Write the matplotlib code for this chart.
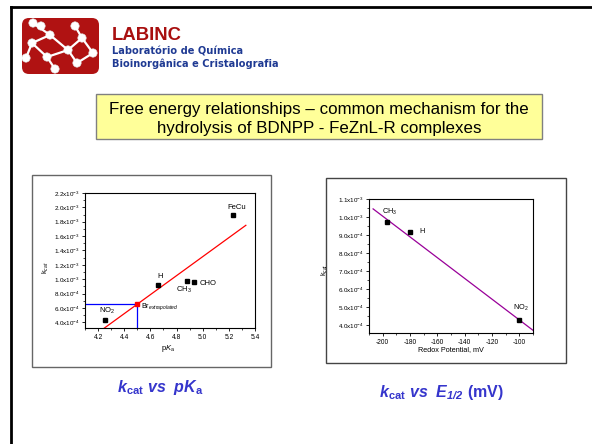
import matplotlib
matplotlib.use("Agg")
import matplotlib.pyplot as plt
import matplotlib.ticker as mticker
from matplotlib.lines import Line2D
from matplotlib.patches import Rectangle, FancyBboxPatch, Circle
import numpy as np

plt.rcParams["font.family"] = ["Liberation Sans", "DejaVu Sans"]
plt.rcParams["mathtext.fontset"] = "custom"
plt.rcParams["mathtext.rm"] = "Liberation Sans"
plt.rcParams["mathtext.it"] = "Liberation Sans:italic"
plt.rcParams["mathtext.bf"] = "Liberation Sans:bold"
plt.rcParams["mathtext.bfit"] = "Liberation Sans:italic:bold"
plt.rcParams["axes.unicode_minus"] = False

W, H = 592, 444

# kcat vs pKa
pka_labels = ["NO$_2$", "H", "CH$_3$", "CHO", "FeCu"]
pka_x = [4.25, 4.66, 4.88, 4.93, 5.23]
pka_kcat = [4.3e-4, 9.2e-4, 9.8e-4, 9.6e-4, 1.9e-3]
pka_fit_x = [4.23, 5.33]
pka_fit_y = [2.95e-4, 1.75e-3]
br_pka = 4.5
br_kcat = 6.5e-4

# kcat vs redox potential
redox_labels = ["CH$_3$", "H", "NO$_2$"]
redox_e = [-197, -180, -100]
redox_kcat = [9.7e-4, 9.15e-4, 4.25e-4]
redox_fit_x = [-207, -90]
redox_fit_y = [1.045e-3, 3.7e-4]

# logo molecule (pixels inside the logo)
logo_nodes = [(12, 6), (29, 18), (11, 26), (5, 41), (26, 40), (47, 33),
              (61, 21), (54, 9), (72, 36), (56, 46), (34, 52), (20, 9)]
logo_bonds = [(0, 1), (0, 11), (1, 2), (2, 3), (2, 4), (4, 5), (5, 6),
              (6, 7), (6, 8), (5, 9), (4, 10), (1, 5), (8, 9)]


def sci_fmt(v, pos):
    if v <= 0:
        return ""
    e = int(np.floor(np.log10(v) + 1e-9))
    m = v / 10 ** e
    return f"{m:.1f}x10$^{{{e}}}$"


def px_axes(fig, l, t, r, b):
    return fig.add_axes([l / W, 1 - b / H, (r - l) / W, (b - t) / H])


def px_rect(fig, l, t, r, b, **kw):
    rect = Rectangle((l / W, 1 - b / H), (r - l) / W, (b - t) / H,
                     transform=fig.transFigure, zorder=-1, **kw)
    fig.add_artist(rect)


def style_axes(ax):
    for s in ax.spines.values():
        s.set_linewidth(0.8)
    ax.tick_params(which="major", direction="out", length=2.5, width=0.6,
                   labelsize=4.8, pad=1.5, top=False, right=False)
    ax.tick_params(which="minor", direction="out", length=1.3, width=0.5,
                   top=False, right=False)
    ax.tick_params(axis="y", labelsize=4.5)
    ax.yaxis.set_major_formatter(mticker.FuncFormatter(sci_fmt))


fig = plt.figure(figsize=(W / 100, H / 100), dpi=100)

# slide border
fig.add_artist(Line2D([11 / W, 1], [1 - 7 / H, 1 - 7 / H],
                      transform=fig.transFigure, color="black", lw=2))
fig.add_artist(Line2D([11 / W, 11 / W], [1 - 7 / H, 0],
                      transform=fig.transFigure, color="black", lw=2))

# logo
lax = px_axes(fig, 21, 17, 100, 75)
lax.set_xlim(0, 79)
lax.set_ylim(58, 0)
lax.axis("off")
badge = FancyBboxPatch((1, 1), 77, 56, boxstyle="round,pad=0,rounding_size=7",
                       fc="#b01212", ec="none")
lax.add_patch(badge)
for a, b in logo_bonds:
    ln, = lax.plot([logo_nodes[a][0], logo_nodes[b][0]],
                   [logo_nodes[a][1], logo_nodes[b][1]], color="white", lw=1.6)
    ln.set_clip_path(badge)
for (x, y) in logo_nodes:
    c = Circle((x, y), 4.2, fc="white", ec="#dddddd", lw=0.4)
    lax.add_patch(c)
    c.set_clip_path(badge)

fig.text(112 / W, 1 - 35 / H, "LABINC", fontsize=13.3, fontweight="bold",
         color="#a80f0f", va="center", ha="left")
fig.text(112 / W, 1 - 52 / H, "Laboratório de Química", family="DejaVu Sans",
         fontsize=7.1, fontweight="bold", color="#1f3a93", va="center", ha="left")
fig.text(112 / W, 1 - 64 / H, "Bioinorgânica e Cristalografia", family="DejaVu Sans",
         fontsize=7.1, fontweight="bold", color="#1f3a93", va="center", ha="left")

# title box
px_rect(fig, 96, 94, 542, 139, fc="#ffff99", ec="#808080", lw=1.0)
fig.text(319 / W, 1 - 109 / H, "Free energy relationships \u2013 common mechanism for the",
         fontsize=12.2, ha="center", va="center")
fig.text(319 / W, 1 - 128 / H, "hydrolysis of BDNPP - FeZnL-R complexes",
         fontsize=12.2, ha="center", va="center")

# chart frames
px_rect(fig, 32, 175, 271, 367, fc="white", ec="#666666", lw=1.0)
px_rect(fig, 326, 178, 566, 363, fc="white", ec="#444444", lw=1.0)

# left chart
ax1 = px_axes(fig, 85, 193, 255, 328)
ax1.set_xlim(4.1, 5.4)
ax1.set_ylim(3.2e-4, 2.2e-3)
ax1.xaxis.set_major_locator(mticker.MultipleLocator(0.2))
ax1.xaxis.set_minor_locator(mticker.MultipleLocator(0.1))
ax1.yaxis.set_major_locator(mticker.MultipleLocator(2e-4))
ax1.yaxis.set_minor_locator(mticker.MultipleLocator(1e-4))
style_axes(ax1)
ax1.plot(pka_fit_x, pka_fit_y, color="red", lw=0.9)
ax1.plot([4.1, br_pka, br_pka], [br_kcat, br_kcat, 3.2e-4], color="blue", lw=0.9)
ax1.plot(pka_x, pka_kcat, "s", color="black", ms=2.6)
ax1.plot([br_pka], [br_kcat], "s", color="red", ms=2.4)
pka_offsets = [((2, 4), "center", "bottom"), ((2, 5), "center", "bottom"),
               ((-3, -4), "center", "top"), ((6, -1), "left", "center"),
               ((4, 4), "center", "bottom")]
for lab, x, y, (off, ha, va) in zip(pka_labels, pka_x, pka_kcat, pka_offsets):
    ax1.annotate(lab, (x, y), xytext=off, textcoords="offset pixels",
                 ha=ha, va=va, fontsize=5.5)
ax1.annotate("Br$_{extrapolated}$", (br_pka, br_kcat), xytext=(4, -2),
             textcoords="offset pixels", ha="left", va="center", fontsize=5.2)
ax1.set_ylabel("k$_{cat}$", fontsize=5.2)
ax1.yaxis.set_label_coords(-0.2, 0.45)
ax1.set_xlabel(r"p$\mathit{K}_{\mathrm{a}}$", fontsize=5.5)
ax1.xaxis.set_label_coords(0.49, -0.11)

# right chart
ax2 = px_axes(fig, 369, 199, 533, 333)
ax2.set_xlim(-210, -90)
ax2.set_ylim(3.55e-4, 1.1e-3)
ax2.xaxis.set_major_locator(mticker.MultipleLocator(20))
ax2.xaxis.set_minor_locator(mticker.MultipleLocator(10))
ax2.yaxis.set_major_locator(mticker.MultipleLocator(1e-4))
ax2.yaxis.set_minor_locator(mticker.MultipleLocator(5e-5))
style_axes(ax2)
ax2.plot(redox_fit_x, redox_fit_y, color="#990099", lw=0.9)
ax2.plot(redox_e, redox_kcat, "s", color="black", ms=2.6)
redox_offsets = [((3, 5), "center", "bottom"), ((9, 1), "left", "center"),
                 ((2, 7), "center", "bottom")]
for lab, x, y, (off, ha, va) in zip(redox_labels, redox_e, redox_kcat, redox_offsets):
    ax2.annotate(lab, (x, y), xytext=off, textcoords="offset pixels",
                 ha=ha, va=va, fontsize=5.3)
ax2.set_ylabel("k$_{cat}$", fontsize=5.0)
ax2.yaxis.set_label_coords(-0.236, 0.47)
ax2.set_xlabel("Redox Potential, mV", fontsize=5.2)
ax2.xaxis.set_label_coords(0.5, -0.097)

# captions
cap_color = "#3535cc"
fig.text(160 / W, 1 - 387 / H,
         r"$\mathbfit{k}_{\mathbf{cat}}$ vs  $\mathbfit{pK}_{\mathbf{a}}$",
         fontsize=11.5, fontweight="bold", style="italic", color=cap_color,
         ha="center", va="center")
fig.text(441 / W, 1 - 392 / H,
         r"$\mathbfit{k}_{\mathbf{cat}}$ vs  $\mathbfit{E}_{\mathbfit{1/2}}\ \mathbf{(mV)}$",
         fontsize=11.5, fontweight="bold", style="italic", color=cap_color,
         ha="center", va="center")

fig.savefig("out.png", dpi=100)
